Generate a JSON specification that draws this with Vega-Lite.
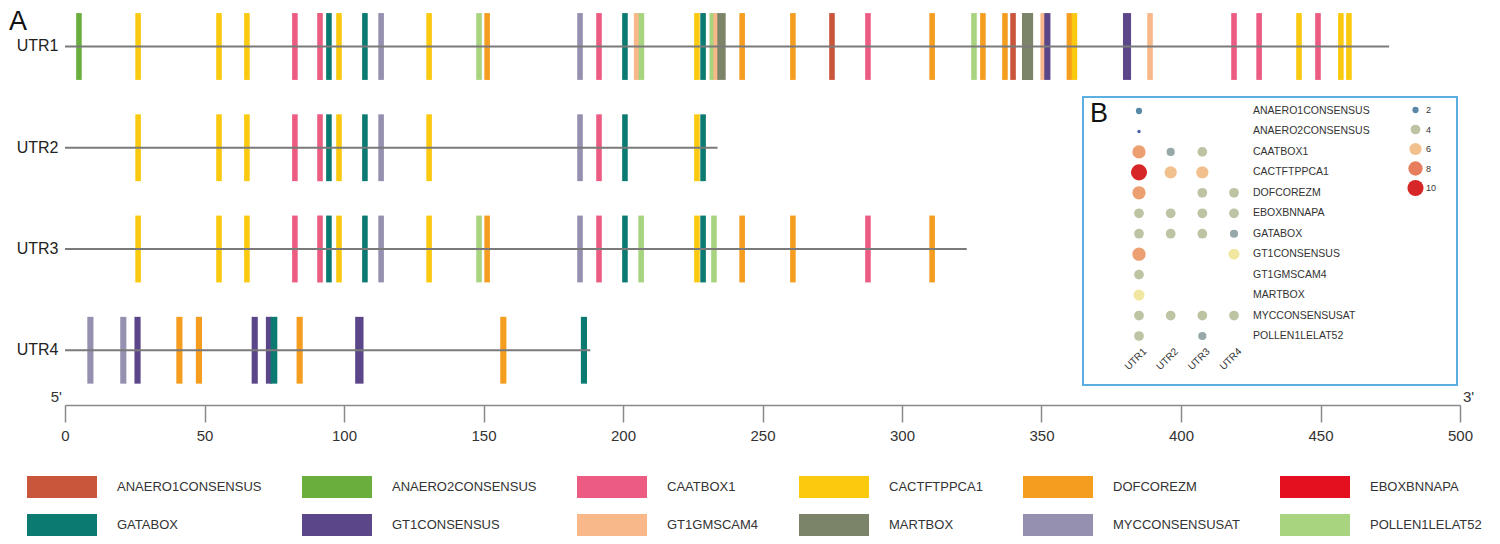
{
"$schema":"https://vega.github.io/schema/vega-lite/v6.json",
"width":1395,"height":405,
"autosize":{"type":"none"},
"padding":{"left":65,"top":0,"right":40,"bottom":139},
"background":"white",
"config":{"view":{"stroke":null},"font":"Liberation Sans","axis":{"grid":false}},
"datasets":{
"bars":[
{"u":"UTR1","m":"ANAERO2CONSENSUS","s":4.0,"e":6.0},
{"u":"UTR1","m":"CACTFTPPCA1","s":25.2,"e":27.2},
{"u":"UTR1","m":"CACTFTPPCA1","s":54.2,"e":56.2},
{"u":"UTR1","m":"CACTFTPPCA1","s":64.2,"e":66.2},
{"u":"UTR1","m":"CAATBOX1","s":81.4,"e":83.4},
{"u":"UTR1","m":"CAATBOX1","s":90.4,"e":92.4},
{"u":"UTR1","m":"GATABOX","s":93.6,"e":95.6},
{"u":"UTR1","m":"CACTFTPPCA1","s":97.2,"e":99.2},
{"u":"UTR1","m":"GATABOX","s":106.5,"e":108.5},
{"u":"UTR1","m":"MYCCONSENSUSAT","s":112.3,"e":114.3},
{"u":"UTR1","m":"CACTFTPPCA1","s":129.5,"e":131.5},
{"u":"UTR1","m":"POLLEN1LELAT52","s":147.4,"e":149.4},
{"u":"UTR1","m":"DOFCOREZM","s":150.3,"e":152.3},
{"u":"UTR1","m":"MYCCONSENSUSAT","s":183.6,"e":185.6},
{"u":"UTR1","m":"CAATBOX1","s":190.4,"e":192.4},
{"u":"UTR1","m":"GATABOX","s":199.7,"e":201.7},
{"u":"UTR1","m":"GT1GMSCAM4","s":203.9,"e":205.9},
{"u":"UTR1","m":"POLLEN1LELAT52","s":205.6,"e":207.6},
{"u":"UTR1","m":"CACTFTPPCA1","s":225.5,"e":227.5},
{"u":"UTR1","m":"GATABOX","s":227.7,"e":229.7},
{"u":"UTR1","m":"POLLEN1LELAT52","s":231.0,"e":233.0},
{"u":"UTR1","m":"GT1GMSCAM4","s":232.4,"e":234.4},
{"u":"UTR1","m":"MARTBOX","s":233.8,"e":236.8},
{"u":"UTR1","m":"DOFCOREZM","s":241.7,"e":243.7},
{"u":"UTR1","m":"DOFCOREZM","s":259.9,"e":261.9},
{"u":"UTR1","m":"ANAERO1CONSENSUS","s":273.9,"e":275.9},
{"u":"UTR1","m":"CAATBOX1","s":286.8,"e":288.8},
{"u":"UTR1","m":"DOFCOREZM","s":309.8,"e":311.8},
{"u":"UTR1","m":"POLLEN1LELAT52","s":324.8,"e":326.8},
{"u":"UTR1","m":"DOFCOREZM","s":328.0,"e":330.0},
{"u":"UTR1","m":"DOFCOREZM","s":335.9,"e":337.9},
{"u":"UTR1","m":"ANAERO1CONSENSUS","s":338.8,"e":340.8},
{"u":"UTR1","m":"MARTBOX","s":343.0,"e":347.0},
{"u":"UTR1","m":"GT1GMSCAM4","s":349.6,"e":351.6},
{"u":"UTR1","m":"GT1CONSENSUS","s":351.0,"e":353.2},
{"u":"UTR1","m":"DOFCOREZM","s":359.0,"e":361.0},
{"u":"UTR1","m":"CACTFTPPCA1","s":360.8,"e":362.8},
{"u":"UTR1","m":"GT1CONSENSUS","s":379.2,"e":382.1},
{"u":"UTR1","m":"GT1GMSCAM4","s":387.9,"e":389.9},
{"u":"UTR1","m":"CAATBOX1","s":418.0,"e":420.0},
{"u":"UTR1","m":"CAATBOX1","s":427.0,"e":429.0},
{"u":"UTR1","m":"CACTFTPPCA1","s":441.3,"e":443.3},
{"u":"UTR1","m":"CAATBOX1","s":448.1,"e":450.1},
{"u":"UTR1","m":"CACTFTPPCA1","s":456.3,"e":458.3},
{"u":"UTR1","m":"CACTFTPPCA1","s":459.2,"e":461.2},
{"u":"UTR2","m":"CACTFTPPCA1","s":25.2,"e":27.2},
{"u":"UTR2","m":"CACTFTPPCA1","s":54.2,"e":56.2},
{"u":"UTR2","m":"CACTFTPPCA1","s":64.2,"e":66.2},
{"u":"UTR2","m":"CAATBOX1","s":81.4,"e":83.4},
{"u":"UTR2","m":"CAATBOX1","s":90.4,"e":92.4},
{"u":"UTR2","m":"GATABOX","s":93.6,"e":95.6},
{"u":"UTR2","m":"CACTFTPPCA1","s":97.2,"e":99.2},
{"u":"UTR2","m":"GATABOX","s":106.5,"e":108.5},
{"u":"UTR2","m":"MYCCONSENSUSAT","s":112.3,"e":114.3},
{"u":"UTR2","m":"CACTFTPPCA1","s":129.5,"e":131.5},
{"u":"UTR2","m":"MYCCONSENSUSAT","s":183.6,"e":185.6},
{"u":"UTR2","m":"CAATBOX1","s":190.4,"e":192.4},
{"u":"UTR2","m":"GATABOX","s":199.7,"e":201.7},
{"u":"UTR2","m":"CACTFTPPCA1","s":225.5,"e":227.5},
{"u":"UTR2","m":"GATABOX","s":227.7,"e":229.7},
{"u":"UTR3","m":"CACTFTPPCA1","s":25.2,"e":27.2},
{"u":"UTR3","m":"CACTFTPPCA1","s":54.2,"e":56.2},
{"u":"UTR3","m":"CACTFTPPCA1","s":64.2,"e":66.2},
{"u":"UTR3","m":"CAATBOX1","s":81.4,"e":83.4},
{"u":"UTR3","m":"CAATBOX1","s":90.4,"e":92.4},
{"u":"UTR3","m":"GATABOX","s":93.6,"e":95.6},
{"u":"UTR3","m":"CACTFTPPCA1","s":97.2,"e":99.2},
{"u":"UTR3","m":"GATABOX","s":106.5,"e":108.5},
{"u":"UTR3","m":"MYCCONSENSUSAT","s":112.3,"e":114.3},
{"u":"UTR3","m":"CACTFTPPCA1","s":129.5,"e":131.5},
{"u":"UTR3","m":"POLLEN1LELAT52","s":147.4,"e":149.4},
{"u":"UTR3","m":"DOFCOREZM","s":150.3,"e":152.3},
{"u":"UTR3","m":"MYCCONSENSUSAT","s":183.6,"e":185.6},
{"u":"UTR3","m":"CAATBOX1","s":190.4,"e":192.4},
{"u":"UTR3","m":"GATABOX","s":199.7,"e":201.7},
{"u":"UTR3","m":"POLLEN1LELAT52","s":205.5,"e":207.5},
{"u":"UTR3","m":"CACTFTPPCA1","s":225.5,"e":227.5},
{"u":"UTR3","m":"GATABOX","s":227.7,"e":229.7},
{"u":"UTR3","m":"POLLEN1LELAT52","s":231.6,"e":233.6},
{"u":"UTR3","m":"DOFCOREZM","s":241.7,"e":243.7},
{"u":"UTR3","m":"DOFCOREZM","s":259.9,"e":261.9},
{"u":"UTR3","m":"CAATBOX1","s":286.8,"e":288.8},
{"u":"UTR3","m":"DOFCOREZM","s":309.8,"e":311.8},
{"u":"UTR4","m":"MYCCONSENSUSAT","s":8.0,"e":10.2},
{"u":"UTR4","m":"MYCCONSENSUSAT","s":19.8,"e":22.0},
{"u":"UTR4","m":"GT1CONSENSUS","s":24.9,"e":27.1},
{"u":"UTR4","m":"DOFCOREZM","s":39.9,"e":42.1},
{"u":"UTR4","m":"DOFCOREZM","s":46.9,"e":49.1},
{"u":"UTR4","m":"GT1CONSENSUS","s":66.9,"e":69.1},
{"u":"UTR4","m":"GT1CONSENSUS","s":72.0,"e":74.2},
{"u":"UTR4","m":"GATABOX","s":73.7,"e":76.1},
{"u":"UTR4","m":"DOFCOREZM","s":83.0,"e":85.2},
{"u":"UTR4","m":"GT1CONSENSUS","s":104.0,"e":107.0},
{"u":"UTR4","m":"DOFCOREZM","s":156.0,"e":158.2},
{"u":"UTR4","m":"GATABOX","s":184.9,"e":187.1}
],
"lines":[{"u":"UTR1","s":0,"len":474.6},{"u":"UTR2","s":0,"len":233.9},{"u":"UTR3","s":0,"len":323.2},{"u":"UTR4","s":0,"len":188.3}],
"counts":[
{"u":"UTR1","m":"ANAERO1CONSENSUS","n":2},
{"u":"UTR1","m":"ANAERO2CONSENSUS","n":1},
{"u":"UTR1","m":"CAATBOX1","n":7},
{"u":"UTR1","m":"CACTFTPPCA1","n":10},
{"u":"UTR1","m":"DOFCOREZM","n":7},
{"u":"UTR1","m":"EBOXBNNAPA","n":4},
{"u":"UTR1","m":"GATABOX","n":4},
{"u":"UTR1","m":"GT1CONSENSUS","n":7},
{"u":"UTR1","m":"GT1GMSCAM4","n":4},
{"u":"UTR1","m":"MARTBOX","n":5},
{"u":"UTR1","m":"MYCCONSENSUSAT","n":4},
{"u":"UTR1","m":"POLLEN1LELAT52","n":4},
{"u":"UTR2","m":"CAATBOX1","n":3},
{"u":"UTR2","m":"CACTFTPPCA1","n":6},
{"u":"UTR2","m":"EBOXBNNAPA","n":4},
{"u":"UTR2","m":"GATABOX","n":4},
{"u":"UTR2","m":"MYCCONSENSUSAT","n":4},
{"u":"UTR3","m":"CAATBOX1","n":4},
{"u":"UTR3","m":"CACTFTPPCA1","n":6},
{"u":"UTR3","m":"DOFCOREZM","n":4},
{"u":"UTR3","m":"EBOXBNNAPA","n":4},
{"u":"UTR3","m":"GATABOX","n":4},
{"u":"UTR3","m":"MYCCONSENSUSAT","n":4},
{"u":"UTR3","m":"POLLEN1LELAT52","n":3},
{"u":"UTR4","m":"DOFCOREZM","n":4},
{"u":"UTR4","m":"EBOXBNNAPA","n":4},
{"u":"UTR4","m":"GATABOX","n":3},
{"u":"UTR4","m":"GT1CONSENSUS","n":5},
{"u":"UTR4","m":"MYCCONSENSUSAT","n":4}
],
"motifs":[{"m":"ANAERO1CONSENSUS"},{"m":"ANAERO2CONSENSUS"},{"m":"CAATBOX1"},{"m":"CACTFTPPCA1"},{"m":"DOFCOREZM"},{"m":"EBOXBNNAPA"},{"m":"GATABOX"},{"m":"GT1CONSENSUS"},{"m":"GT1GMSCAM4"},{"m":"MARTBOX"},{"m":"MYCCONSENSUSAT"},{"m":"POLLEN1LELAT52"}],
"utrs":[{"u":"UTR1"},{"u":"UTR2"},{"u":"UTR3"},{"u":"UTR4"}]
},
"layer":[
{"layer":[
 {"data":{"name":"bars"},"mark":{"type":"rect"},
  "encoding":{
   "x":{"field":"s","type":"quantitative","scale":{"domain":[0,500],"nice":false},
        "axis":{"values":[0,50,100,150,200,250,300,350,400,450,500],"title":null,"tickSize":17,"tickWidth":1.5,"tickColor":"#8a8a8a","domainColor":"#8a8a8a","domainWidth":1.5,"labelFontSize":15,"labelColor":"#333","labelPadding":6,"labelFlush":false,"grid":false}},
   "x2":{"field":"e"},
   "y":{"field":"u","type":"nominal","scale":{"type":"band","domain":["UTR1","UTR2","UTR3","UTR4"],"paddingInner":0.34,"paddingOuter":0.17,"align":0.38},
        "axis":{"title":null,"domain":false,"ticks":false,"labelFontSize":16,"labelColor":"#222","labelPadding":7}},
   "color":{"field":"m","type":"nominal",
     "scale":{"domain":["ANAERO1CONSENSUS","ANAERO2CONSENSUS","CAATBOX1","CACTFTPPCA1","DOFCOREZM","EBOXBNNAPA","GATABOX","GT1CONSENSUS","GT1GMSCAM4","MARTBOX","MYCCONSENSUSAT","POLLEN1LELAT52"],
              "range":["#c9553a","#6aaf3d","#ec5b82","#fbc90e","#f59d1f","#e4101f","#0b7a70","#5a4689","#f8b889","#7b8469","#958fb0","#a8d47f"]},
     "legend":{"title":null,"orient":"none","legendX":-38,"legendY":476,"direction":"horizontal","columns":6,"symbolType":"M-1,-0.314H1V0.314H-1Z","symbolSize":4900,"clipHeight":22,"symbolStrokeWidth":0,"symbolOpacity":1,"labelFontSize":13,"labelColor":"#333","labelOffset":20,"columnPadding":40,"rowPadding":16,"gridAlign":"each"}}
  }},
 {"data":{"name":"lines"},"mark":{"type":"rule","color":"#7a7a7a","strokeWidth":2},
  "encoding":{"x":{"field":"s","type":"quantitative"},"x2":{"field":"len"},"y":{"field":"u","type":"nominal"}}},
 {"data":{"values":[{"p":0,"t":"5'"}]},"mark":{"type":"text","fontSize":15,"color":"#333","align":"right","baseline":"alphabetic","dx":-3,"dy":-3},
  "encoding":{"x":{"field":"p","type":"quantitative"},"y":{"value":"height"},"text":{"field":"t"}}},
 {"data":{"values":[{"p":500,"t":"3'"}]},"mark":{"type":"text","fontSize":15,"color":"#333","align":"left","baseline":"alphabetic","dx":3,"dy":-3},
  "encoding":{"x":{"field":"p","type":"quantitative"},"y":{"value":"height"},"text":{"field":"t"}}},
 {"data":{"values":[{"p":0,"t":"A"}]},"mark":{"type":"text","fontSize":27,"color":"#111","align":"center","baseline":"middle","xOffset":-47,"yOffset":-24},
  "encoding":{"x":{"field":"p","type":"quantitative"},"y":{"datum":"UTR1","type":"nominal"},"text":{"field":"t"}}}
]},
{"layer":[
 {"data":{"values":[{"k":"box"}]},"mark":{"type":"rect","fill":"white","stroke":"#5aaee0","strokeWidth":2,"width":374,"height":288,"xOffset":131,"yOffset":130},
  "encoding":{
   "x":{"datum":"UTR1","type":"nominal","scale":{"type":"point","domain":["UTR1","UTR2","UTR3","UTR4"],"range":[1074,1169],"padding":0},"axis":null},
   "y":{"datum":"ANAERO1CONSENSUS","type":"nominal","scale":{"type":"point","domain":["ANAERO1CONSENSUS","ANAERO2CONSENSUS","CAATBOX1","CACTFTPPCA1","DOFCOREZM","EBOXBNNAPA","GATABOX","GT1CONSENSUS","GT1GMSCAM4","MARTBOX","MYCCONSENSUSAT","POLLEN1LELAT52"],"range":[111,336],"padding":0},"axis":null}}},
 {"data":{"name":"counts"},"mark":{"type":"circle","opacity":1},
  "encoding":{
   "x":{"field":"u","type":"nominal","axis":null},
   "y":{"field":"m","type":"nominal","axis":null},
   "size":{"field":"n","type":"quantitative","scale":{"domain":[1,3,4,5,6,8,10],"range":[12,67,95,122,150,205,260],"zero":false},
     "legend":{"title":null,"orient":"none","legendX":1342,"legendY":101,"values":[2,4,6,8,10],"type":"symbol","labelFontSize":9,"labelColor":"#333","labelOffset":2,"clipHeight":18,"rowPadding":1.5,"symbolStrokeWidth":0,"symbolOpacity":1}},
   "color":{"field":"n","type":"quantitative","scale":{"domain":[1,3,4,5,6,8,10],"range":["#4a5fa5","#98a8aa","#bcc4a4","#f1e7a1","#f2c08c","#e67e5e","#d62628"]},
     "legend":{"title":null,"orient":"none","legendX":1342,"legendY":101,"values":[2,4,6,8,10],"type":"symbol","labelFontSize":9,"labelColor":"#333","labelOffset":2,"clipHeight":18,"rowPadding":1.5,"symbolStrokeWidth":0,"symbolOpacity":1}}
  }},
 {"data":{"name":"motifs"},"mark":{"type":"text","align":"left","baseline":"middle","fontSize":10.5,"color":"#333","xOffset":19},
  "encoding":{"x":{"datum":"UTR4","type":"nominal"},"y":{"field":"m","type":"nominal"},"text":{"field":"m"}}},
 {"data":{"name":"utrs"},"mark":{"type":"text","align":"right","baseline":"middle","fontSize":10,"color":"#333","angle":315,"xOffset":6,"yOffset":14},
  "encoding":{"x":{"field":"u","type":"nominal"},"y":{"datum":"POLLEN1LELAT52","type":"nominal"},"text":{"field":"u"}}},
 {"data":{"values":[{"t":"B"}]},"mark":{"type":"text","align":"center","baseline":"middle","fontSize":27,"color":"#111","xOffset":-40,"yOffset":3},
  "encoding":{"x":{"datum":"UTR1","type":"nominal"},"y":{"datum":"ANAERO1CONSENSUS","type":"nominal"},"text":{"field":"t"}}}
]}
],
"resolve":{"scale":{"x":"independent","y":"independent","color":"independent","size":"independent"}}
}
